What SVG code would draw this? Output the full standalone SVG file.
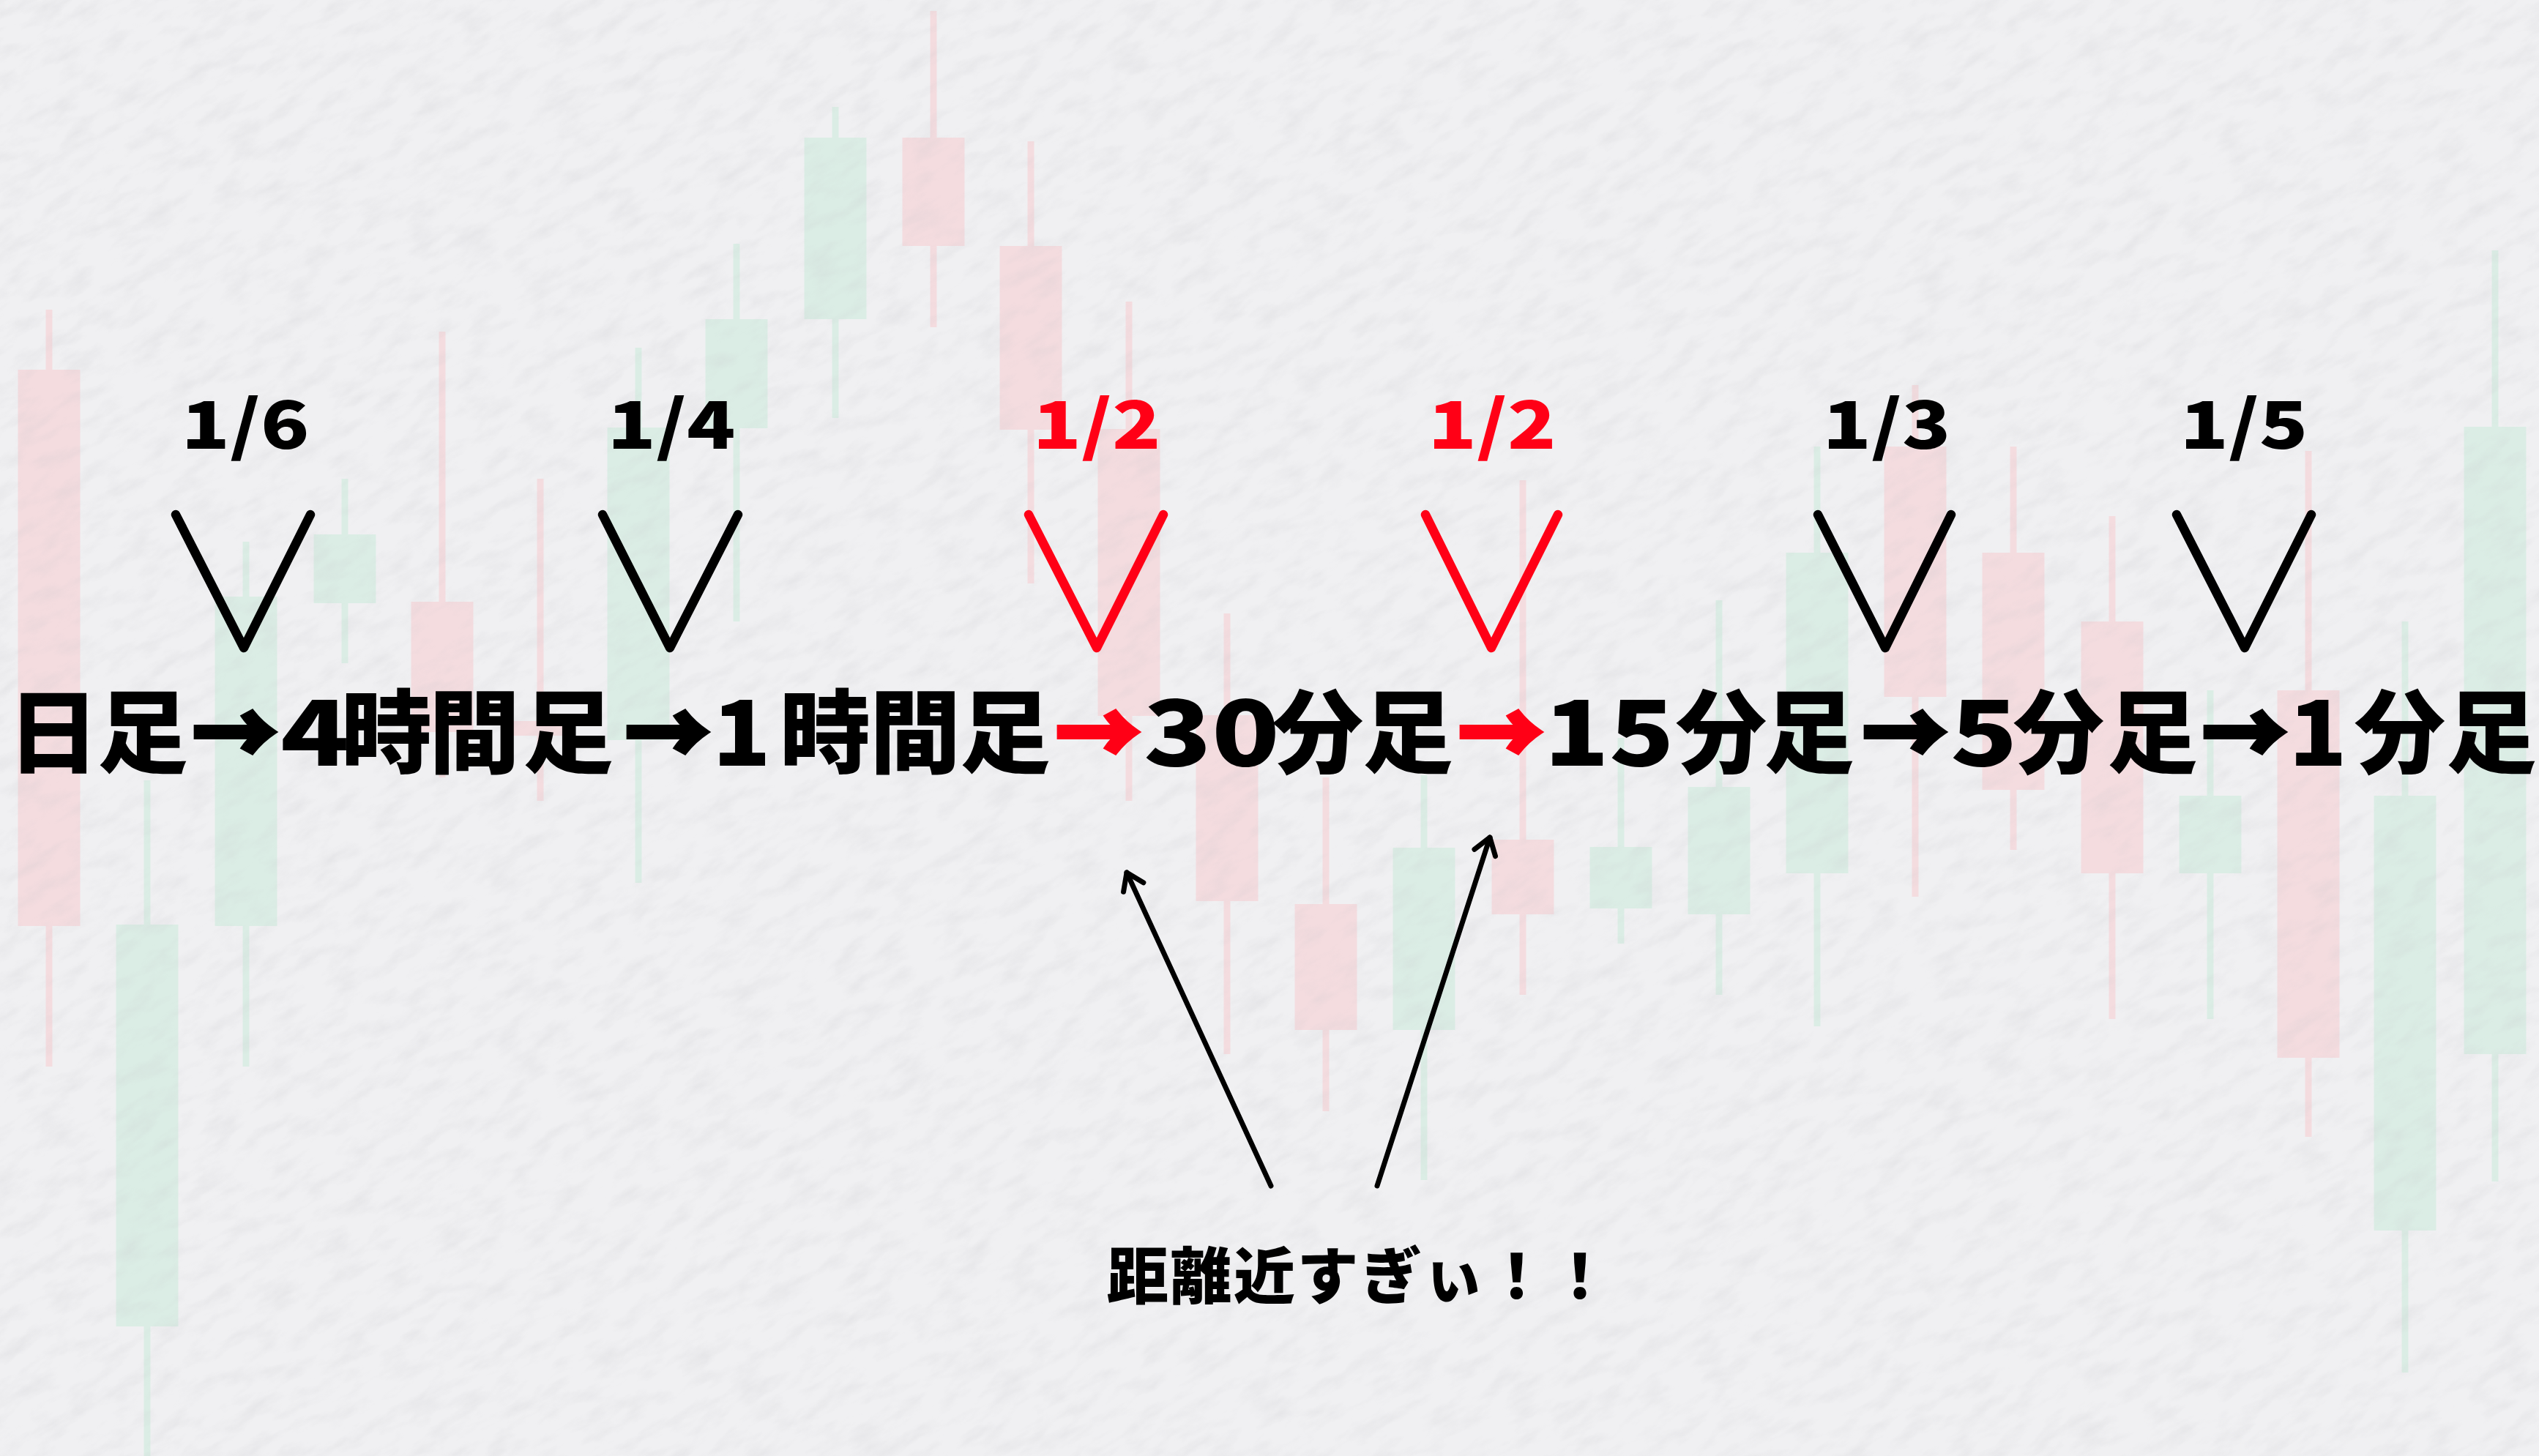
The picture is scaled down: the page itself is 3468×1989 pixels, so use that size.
<svg xmlns="http://www.w3.org/2000/svg" width="3468" height="1989" viewBox="0 0 3468 1989">
  <defs>
    <style>
      .paper { fill: #f0f0f2; }
      .up { fill: #dbede5; }
      .dn { fill: #f4dcdf; }
      .main { font-family: "Noto Sans CJK JP", "Noto Sans", sans-serif; font-weight: 900; font-size: 124px; text-anchor: middle; fill: #000; }
      .arr { font-family: "Noto Sans CJK JP", "Noto Sans", sans-serif; font-weight: 900; font-size: 116px; text-anchor: middle; fill: #000; stroke: #000; stroke-width: 6; stroke-linejoin: miter; }
      .arr.red { fill: #ff0016; stroke: #ff0016; }
      .frac { font-family: "Noto Sans CJK JP", "Noto Sans", sans-serif; font-weight: 900; font-size: 90px; text-anchor: middle; fill: #000; }
      .note { font-family: "Noto Sans CJK JP", "Noto Sans", sans-serif; font-weight: 900; font-size: 84px; fill: #000; }
      .red { fill: #ff0016; }
      .v { fill: none; stroke: #000; stroke-width: 12.5; stroke-linecap: round; stroke-linejoin: round; }
      .v.hot { stroke: #ff0016; }
      .ptr { fill: none; stroke: #000; stroke-width: 7; stroke-linecap: round; marker-end: url(#tip); }
    </style>
    <filter id="grain" x="0" y="0" width="1" height="1">
      <feTurbulence type="fractalNoise" baseFrequency="0.02 0.05" numOctaves="4" seed="5"/>
      <feColorMatrix type="matrix" values="0 0 0 0 0.55  0 0 0 0 0.55  0 0 0 0 0.58  1.6 0 0 0 -0.7"/>
    </filter>
    <marker id="tip" markerUnits="userSpaceOnUse" viewBox="-40 -30 50 60" refX="0" refY="0" markerWidth="50" markerHeight="60" orient="auto" overflow="visible">
      <path d="M -22 -15 L 0 0 L -22 15" fill="none" stroke="#000" stroke-width="7" stroke-linecap="round" stroke-linejoin="round"/>
    </marker>
  </defs>

  <!-- paper background -->
  <rect class="paper" x="0" y="0" width="3468" height="1989"/>

  <!-- faint candlestick chart behind everything -->
  <g id="candles">
    <rect class="dn" x="62.5" y="423" width="9" height="1034"/><rect class="dn" x="24.5" y="505" width="85" height="760"/>
    <rect class="up" x="196.5" y="1066" width="9" height="923"/><rect class="up" x="158.5" y="1263" width="85" height="549"/>
    <rect class="up" x="331.5" y="740" width="9" height="717"/><rect class="up" x="293.5" y="815" width="85" height="450"/>
    <rect class="up" x="466.5" y="654" width="9" height="252"/><rect class="up" x="428.5" y="730" width="85" height="94"/>
    <rect class="dn" x="599.5" y="453" width="9" height="609"/><rect class="dn" x="561.5" y="822" width="85" height="178"/>
    <rect class="dn" x="733.5" y="654" width="9" height="440"/><rect class="dn" x="695.5" y="985" width="85" height="20"/>
    <rect class="up" x="867.5" y="475" width="9" height="731"/><rect class="up" x="829.5" y="584" width="85" height="427"/>
    <rect class="up" x="1001.5" y="333" width="9" height="516"/><rect class="up" x="963.5" y="436" width="85" height="149"/>
    <rect class="up" x="1136.5" y="146" width="9" height="425"/><rect class="up" x="1098.5" y="188" width="85" height="248"/>
    <rect class="dn" x="1270.5" y="15" width="9" height="432"/><rect class="dn" x="1232.5" y="188" width="85" height="148"/>
    <rect class="dn" x="1403.5" y="193" width="9" height="604"/><rect class="dn" x="1365.5" y="336" width="85" height="251"/>
    <rect class="dn" x="1537.5" y="412" width="9" height="682"/><rect class="dn" x="1499.5" y="586" width="85" height="392"/>
    <rect class="dn" x="1671.5" y="838" width="9" height="602"/><rect class="dn" x="1633.5" y="977" width="85" height="254"/>
    <rect class="dn" x="1806.5" y="1062" width="9" height="456"/><rect class="dn" x="1768.5" y="1235" width="85" height="172"/>
    <rect class="up" x="1940.5" y="1059" width="9" height="553"/><rect class="up" x="1902.5" y="1158" width="85" height="249"/>
    <rect class="dn" x="2075.5" y="656" width="9" height="703"/><rect class="dn" x="2037.5" y="1147" width="85" height="102"/>
    <rect class="up" x="2209.5" y="1008" width="9" height="281"/><rect class="up" x="2171.5" y="1157" width="85" height="84"/>
    <rect class="up" x="2343.5" y="820" width="9" height="539"/><rect class="up" x="2305.5" y="1075" width="85" height="174"/>
    <rect class="up" x="2477.5" y="610" width="9" height="792"/><rect class="up" x="2439.5" y="755" width="85" height="438"/>
    <rect class="dn" x="2611.5" y="526" width="9" height="699"/><rect class="dn" x="2573.5" y="610" width="85" height="342"/>
    <rect class="dn" x="2745.5" y="610" width="9" height="551"/><rect class="dn" x="2707.5" y="755" width="85" height="324"/>
    <rect class="dn" x="2880.5" y="705" width="9" height="687"/><rect class="dn" x="2842.5" y="849" width="85" height="344"/>
    <rect class="up" x="3014.5" y="943" width="9" height="449"/><rect class="up" x="2976.5" y="1087" width="85" height="106"/>
    <rect class="dn" x="3148.5" y="616" width="9" height="937"/><rect class="dn" x="3110.5" y="943" width="85" height="502"/>
    <rect class="up" x="3280.5" y="849" width="9" height="1026"/><rect class="up" x="3242.5" y="1087" width="85" height="594"/>
    <rect class="up" x="3403.5" y="342" width="9" height="1272"/><rect class="up" x="3365.5" y="583" width="85" height="857"/>
  </g>

  <!-- paper fibre grain laid over the chart -->
  <g transform="rotate(-30 1734 994)" opacity="0.28">
    <rect x="-291" y="-1031" width="4050" height="4050" filter="url(#grain)"/>
  </g>

  <!-- timeframe chain: each run placed on its own so the wide digits fit -->
  <g id="chain">
    <text class="main" y="1046" x="73 195">日足</text>
    <text class="arr" y="1044" x="321">→</text>
    <text class="main" y="1046" x="430" textLength="94" lengthAdjust="spacingAndGlyphs">4</text>
    <text class="main" y="1046" x="528 648 776">時間足</text>
    <text class="arr" y="1044" x="912">→</text>
    <text class="main" y="1046" x="1013" textLength="80" lengthAdjust="spacingAndGlyphs">1</text>
    <text class="main" y="1046" x="1127 1250 1373">時間足</text>
    <text class="arr red" y="1044" x="1500">→</text>
    <text class="main" y="1046" x="1655" textLength="186" lengthAdjust="spacingAndGlyphs">30</text>
    <text class="main" y="1046" x="1800 1923">分足</text>
    <text class="arr red" y="1044" x="2050">→</text>
    <text class="main" y="1046" x="2198" textLength="178" lengthAdjust="spacingAndGlyphs">15</text>
    <text class="main" y="1046" x="2351 2471">分足</text>
    <text class="arr" y="1044" x="2602">→</text>
    <text class="main" y="1046" x="2710" textLength="92" lengthAdjust="spacingAndGlyphs">5</text>
    <text class="main" y="1046" x="2812 2940">分足</text>
    <text class="arr" y="1044" x="3066">→</text>
    <text class="main" y="1046" x="3166" textLength="80" lengthAdjust="spacingAndGlyphs">1</text>
    <text class="main" y="1046" x="3278 3403">分足</text>
  </g>

  <!-- ratio labels with their check marks -->
  <g id="ratio-1">
    <text class="frac" x="335" y="613" textLength="175" lengthAdjust="spacingAndGlyphs">1/6</text>
    <polyline class="v" points="240,703 333,885 424,703"/>
  </g>
  <g id="ratio-2">
    <text class="frac" x="917" y="613" textLength="175" lengthAdjust="spacingAndGlyphs">1/4</text>
    <polyline class="v" points="823,703 915,885 1008,703"/>
  </g>
  <g id="ratio-3">
    <text class="frac red" x="1498" y="613" textLength="175" lengthAdjust="spacingAndGlyphs">1/2</text>
    <polyline class="v hot" points="1405,703 1498,885 1589,703"/>
  </g>
  <g id="ratio-4">
    <text class="frac red" x="2038" y="613" textLength="175" lengthAdjust="spacingAndGlyphs">1/2</text>
    <polyline class="v hot" points="1947,703 2037,885 2128,703"/>
  </g>
  <g id="ratio-5">
    <text class="frac" x="2577" y="613" textLength="175" lengthAdjust="spacingAndGlyphs">1/3</text>
    <polyline class="v" points="2483,703 2575,885 2665,703"/>
  </g>
  <g id="ratio-6">
    <text class="frac" x="3065" y="613" textLength="175" lengthAdjust="spacingAndGlyphs">1/5</text>
    <polyline class="v" points="2973,703 3066,885 3157,703"/>
  </g>

  <!-- callout -->
  <g id="callout">
    <text class="note" x="1512" y="1774" textLength="688" lengthAdjust="spacing">距離近すぎぃ！！</text>
  </g>

  <g id="connectors">
    <path class="ptr" d="M 1736 1620 L 1539 1192"/>
    <path class="ptr" d="M 1881 1620 L 2035 1144"/>
  </g>
</svg>
